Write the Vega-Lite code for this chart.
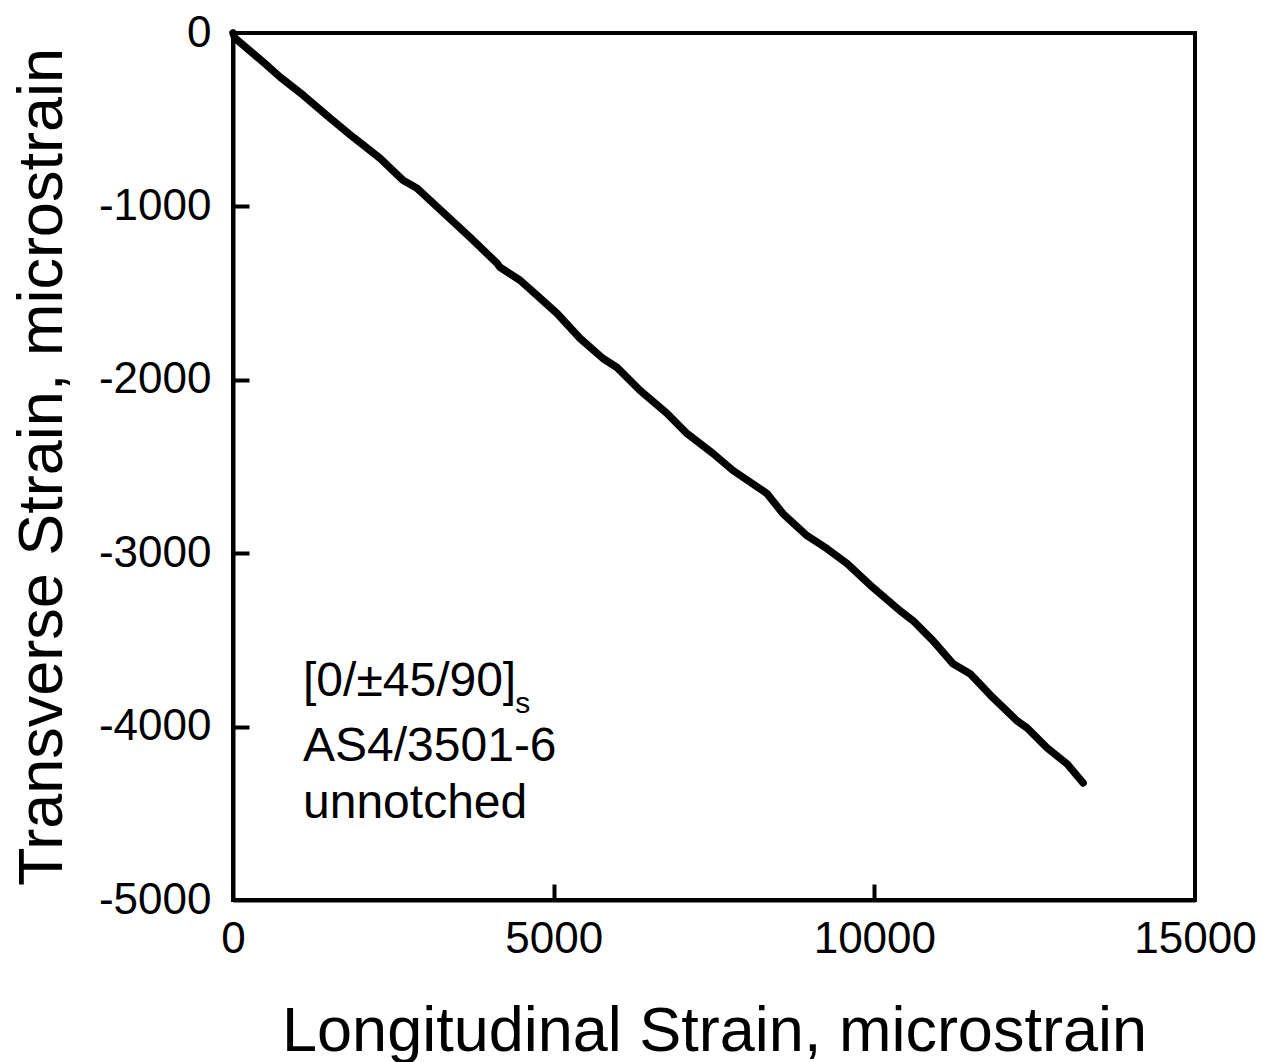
{
  "$schema": "https://vega.github.io/schema/vega-lite/v6.json",
  "width": 962,
  "height": 867,
  "autosize": {"type": "none"},
  "padding": {"left": 233, "top": 33, "right": 80, "bottom": 162},
  "background": "white",
  "config": {
    "view": {"stroke": "black", "strokeWidth": 4},
    "font": "Liberation Sans",
    "axis": {
      "grid": false,
      "domainColor": "black",
      "domainWidth": 4,
      "tickColor": "black",
      "tickWidth": 4,
      "labelColor": "black",
      "labelFont": "Liberation Sans",
      "labelFontSize": 44,
      "labelFlush": false,
      "labelOverlap": false,
      "titleColor": "black",
      "titleFont": "Liberation Sans",
      "titleFontSize": 63,
      "titleFontWeight": "normal"
    }
  },
  "resolve": {"axis": {"x": "independent", "y": "independent"}},
  "datasets": {
    "curve": [
      {"longitudinal": 0, "transverse": 0},
      {"longitudinal": 31, "transverse": -29},
      {"longitudinal": 468, "transverse": -167},
      {"longitudinal": 733, "transverse": -254},
      {"longitudinal": 1092, "transverse": -358},
      {"longitudinal": 1513, "transverse": -491},
      {"longitudinal": 1871, "transverse": -600},
      {"longitudinal": 2292, "transverse": -722},
      {"longitudinal": 2651, "transverse": -849},
      {"longitudinal": 2869, "transverse": -895},
      {"longitudinal": 3274, "transverse": -1034},
      {"longitudinal": 3695, "transverse": -1178},
      {"longitudinal": 4117, "transverse": -1328},
      {"longitudinal": 4163, "transverse": -1351},
      {"longitudinal": 4475, "transverse": -1426},
      {"longitudinal": 4740, "transverse": -1513},
      {"longitudinal": 5052, "transverse": -1617},
      {"longitudinal": 5411, "transverse": -1761},
      {"longitudinal": 5769, "transverse": -1877},
      {"longitudinal": 5988, "transverse": -1929},
      {"longitudinal": 6346, "transverse": -2061},
      {"longitudinal": 6767, "transverse": -2194},
      {"longitudinal": 7079, "transverse": -2310},
      {"longitudinal": 7485, "transverse": -2425},
      {"longitudinal": 7797, "transverse": -2523},
      {"longitudinal": 8327, "transverse": -2656},
      {"longitudinal": 8576, "transverse": -2772},
      {"longitudinal": 8950, "transverse": -2899},
      {"longitudinal": 9262, "transverse": -2974},
      {"longitudinal": 9574, "transverse": -3060},
      {"longitudinal": 9980, "transverse": -3199},
      {"longitudinal": 10401, "transverse": -3332},
      {"longitudinal": 10603, "transverse": -3389},
      {"longitudinal": 10915, "transverse": -3505},
      {"longitudinal": 11227, "transverse": -3638},
      {"longitudinal": 11492, "transverse": -3695},
      {"longitudinal": 11851, "transverse": -3834},
      {"longitudinal": 12225, "transverse": -3967},
      {"longitudinal": 12381, "transverse": -4007},
      {"longitudinal": 12693, "transverse": -4123},
      {"longitudinal": 13005, "transverse": -4215},
      {"longitudinal": 13255, "transverse": -4325}
    ],
    "notes": [
      {"label": "[0/±45/90]", "x": 1092, "y": -3822, "kind": "main"},
      {"label": "AS4/3501-6", "x": 1092, "y": -4198, "kind": "main"},
      {"label": "unnotched", "x": 1092, "y": -4527, "kind": "main"},
      {"label": "s", "x": 4400, "y": -3921, "kind": "sub"}
    ]
  },
  "layer": [
    {
      "data": {"name": "curve"},
      "mark": {"type": "line", "color": "black", "strokeWidth": 7.5, "strokeJoin": "round", "strokeCap": "round"},
      "encoding": {
        "x": {
          "field": "longitudinal",
          "type": "quantitative",
          "scale": {"domain": [0, 15000], "nice": false, "zero": false},
          "axis": {
            "orient": "bottom",
            "values": [0, 5000, 10000, 15000],
            "labelExpr": "'' + datum.value",
            "ticks": false,
            "labelPadding": 17,
            "title": "Longitudinal Strain, microstrain",
            "titleBaseline": "alphabetic",
            "titleY": 150
          }
        },
        "y": {
          "field": "transverse",
          "type": "quantitative",
          "scale": {"domain": [-5000, 0], "nice": false, "zero": false},
          "axis": {
            "orient": "left",
            "values": [0, -1000, -2000, -3000, -4000, -5000],
            "labelExpr": "'' + datum.value",
            "ticks": false,
            "labelPadding": 22,
            "title": "Transverse Strain, microstrain",
            "titleBaseline": "alphabetic",
            "titleX": -172
          }
        }
      }
    },
    {
      "data": {"name": "curve"},
      "mark": {"type": "line", "strokeOpacity": 0},
      "encoding": {
        "x": {
          "field": "longitudinal",
          "type": "quantitative",
          "axis": {
            "orient": "bottom",
            "offset": -16,
            "values": [5000, 10000],
            "tickSize": 16,
            "labels": false,
            "domain": false,
            "title": null
          }
        },
        "y": {
          "field": "transverse",
          "type": "quantitative",
          "axis": {
            "orient": "left",
            "offset": -16,
            "values": [-1000, -2000, -3000, -4000],
            "tickSize": 16,
            "labels": false,
            "domain": false,
            "title": null
          }
        }
      }
    },
    {
      "data": {"name": "notes"},
      "transform": [{"filter": "datum.kind === 'main'"}],
      "mark": {"type": "text", "align": "left", "baseline": "alphabetic", "fontSize": 48, "font": "Liberation Sans", "color": "black"},
      "encoding": {
        "x": {"field": "x", "type": "quantitative", "axis": null},
        "y": {"field": "y", "type": "quantitative", "axis": null},
        "text": {"field": "label"}
      }
    },
    {
      "data": {"name": "notes"},
      "transform": [{"filter": "datum.kind === 'sub'"}],
      "mark": {"type": "text", "align": "left", "baseline": "alphabetic", "fontSize": 30, "font": "Liberation Sans", "color": "black"},
      "encoding": {
        "x": {"field": "x", "type": "quantitative", "axis": null},
        "y": {"field": "y", "type": "quantitative", "axis": null},
        "text": {"field": "label"}
      }
    }
  ]
}
